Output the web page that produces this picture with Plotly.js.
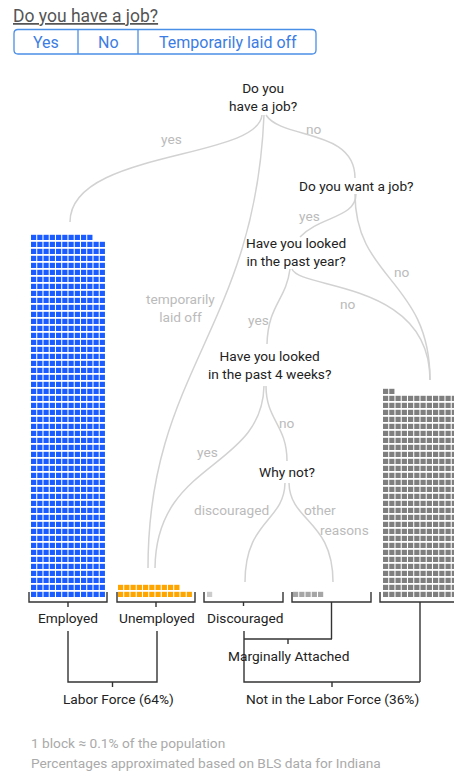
<!DOCTYPE html>
<html>
<head>
<meta charset="utf-8">
<script src="https://cdn.plot.ly/plotly-3.0.1.min.js"></script>
<style>html,body{margin:0;padding:0;background:#fff;}#chart{width:454px;height:771px;}</style>
</head>
<body>
<div id="chart"></div>
<script>
// ---- data ----
const categories = ['Employed', 'Unemployed', 'Discouraged', 'Other reasons', 'Not in the Labor Force'];
const categoryLabels = ['Employed', 'Unemployed', 'Discouraged'];
const blockCounts = [622, 22, 1, 5, 350];
const groupLabels = ['Labor Force (64%)', 'Not in the Labor Force (36%)', 'Marginally Attached'];
const buttonLabels = ['Yes', 'No', 'Temporarily laid off'];
const questions = ['Do you<br>have a job?', 'Do you want a job?', 'Have you looked<br>in the past year?',
                   'Have you looked<br>in the past 4 weeks?', 'Why not?'];
const branchLabels = ['yes', 'no', 'yes', 'no', 'temporarily<br>laid off', 'yes', 'no', 'yes', 'no', 'discouraged', 'other', 'reasons'];
const notes = ['1 block \u2248 0.1% of the population', 'Percentages approximated based on BLS data for Indiana'];

// ---- styles / layout config ----
const blockColors = ['#1a5cff', '#ffa500', '#cccccc', '#a6a6a6', '#7f7f7f'];
const pileLeft = [31, 118, 207, 293, 383];
const pileBottom = 597;
const COLS = 12, PX = 6.25, PY = 7.0, BS = 5.2;
const FONT = 'Roboto, "Open Sans", sans-serif';
const FS = 13.7;

const traces = blockCounts.map((n, k) => {
  const xs = [], ys = [];
  for (let i = 0; i < n; i++) {
    const c = i % COLS, r = Math.floor(i / COLS);
    xs.push(pileLeft[k] + BS / 2 + c * PX);
    ys.push(pileBottom - BS / 2 - r * PY);
  }
  return {
    type: 'scatter', mode: 'markers', x: xs, y: ys, name: categories[k],
    hoverinfo: 'skip',
    marker: {symbol: 'square', size: BS, color: blockColors[k], line: {width: 0}}
  };
});

const treeLine = {color: '#d2d2d2', width: 1.5};
const brLine = {color: '#333333', width: 1.4};
function path(d, line, layer) {
  return {type: 'path', xref: 'x', yref: 'y', path: d, line: line, layer: layer || 'above'};
}
const shapes = [
  // tree
  path('M 262 115 C 258 160, 70 150, 70 222', treeLine, 'below'),
  path('M 264 115 C 255 330, 148 370, 148 568', treeLine, 'below'),
  path('M 266 115 C 282 140, 355 128, 355 178', treeLine, 'below'),
  path('M 355 194 C 355 280, 430 280, 430 380', treeLine, 'below'),
  path('M 356 194 C 356 218, 320 216, 300 237', treeLine, 'below'),
  path('M 292 269 C 300 290, 430 280, 430 380', treeLine, 'below'),
  path('M 290 269 C 286 300, 268 305, 267 344', treeLine, 'below'),
  path('M 264 386 C 262 470, 156 460, 155 568', treeLine, 'below'),
  path('M 266 386 C 266 420, 287 425, 287 461', treeLine, 'below'),
  path('M 285 483 C 284 522, 245 520, 245 582', treeLine, 'below'),
  path('M 289 483 C 290 522, 333 520, 333 582', treeLine, 'below'),
  // buttons
  path('M 18 29.5 H 312 Q 316 29.5 316 33.5 V 50 Q 316 54 312 54 H 18 Q 14 54 14 50 V 33.5 Q 14 29.5 18 29.5 Z', {color: '#4a8fe7', width: 1.3}),
  path('M 78 29.5 V 54', {color: '#4a8fe7', width: 1.3}),
  path('M 138 29.5 V 54', {color: '#4a8fe7', width: 1.3}),
];
// pile brackets
const brackets = [[29, 107], [117, 195], [204, 283], [292, 371], [380, 470]];
const tickEnd = [607, 607, 606, 639, 682];
brackets.forEach((b, i) => {
  shapes.push(path(`M ${b[0]} 592 V 602 H ${b[1]} V 592`, brLine));
  const c = i === 4 ? 420 : (b[0] + b[1]) / 2;
  shapes.push(path(`M ${c} 602 V ${tickEnd[i]}`, brLine));
});
shapes.push(path('M 68 631 V 682 H 157 V 631', brLine));
shapes.push(path('M 112.5 682 V 687', brLine));
shapes.push(path('M 244 631 V 682 H 420', brLine));
shapes.push(path('M 332 682 V 687', brLine));
shapes.push(path('M 244 639 H 332', brLine));
shapes.push(path('M 288 639 V 644', brLine));

function ann(text, x, y, size, color, extra) {
  return Object.assign({text: text, x: x, y: y, xref: 'x', yref: 'y', showarrow: false,
    xanchor: 'center', yanchor: 'middle', font: {family: FONT, size: size, color: color}}, extra || {});
}
const annotations = [
  ann('<u>Do you have a job?</u>', 11, 16, 17.5, '#555555', {xanchor: 'left'}),
  ann(buttonLabels[0], 46, 42.5, 16, '#3b7de3'),
  ann(buttonLabels[1], 108, 42.5, 16, '#3b7de3'),
  ann(buttonLabels[2], 228, 42.5, 16, '#3b7de3'),
  ann(questions[0], 263, 97, FS, '#222222'),
  ann(questions[1], 356, 186, FS, '#222222'),
  ann(questions[2], 296, 252, FS, '#222222'),
  ann(questions[3], 269, 365, FS, '#222222'),
  ann(questions[4], 287, 472, FS, '#222222'),
  ann(branchLabels[0], 171, 139, FS, '#bbbbbb'),
  ann(branchLabels[1], 314, 129, FS, '#bbbbbb'),
  ann(branchLabels[2], 309, 216, FS, '#bbbbbb'),
  ann(branchLabels[3], 402, 272, FS, '#bbbbbb'),
  ann(branchLabels[4], 180, 308, FS, '#bbbbbb'),
  ann(branchLabels[5], 258, 320, FS, '#bbbbbb'),
  ann(branchLabels[6], 348, 304, FS, '#bbbbbb'),
  ann(branchLabels[7], 207, 452, FS, '#bbbbbb'),
  ann(branchLabels[8], 287, 423, FS, '#bbbbbb'),
  ann(branchLabels[9], 231, 510, FS, '#bbbbbb'),
  ann(branchLabels[10], 320, 510, FS, '#bbbbbb'),
  ann(branchLabels[11], 344, 530, FS, '#bbbbbb'),
  ann(categoryLabels[0], 68, 618, FS, '#222222'),
  ann(categoryLabels[1], 157, 618, FS, '#222222'),
  ann(categoryLabels[2], 245, 618, FS, '#222222'),
  ann(groupLabels[2], 288, 656, FS, '#222222'),
  ann(groupLabels[0], 118, 699, FS, '#222222'),
  ann(groupLabels[1], 332, 699, FS, '#222222'),
  ann(notes[0], 29, 743, FS, '#aaaaaa', {xanchor: 'left'}),
  ann(notes[1], 29, 763, FS, '#aaaaaa', {xanchor: 'left'}),
];

const layout = {
  width: 454, height: 771,
  margin: {l: 0, r: 0, t: 0, b: 0, pad: 0},
  paper_bgcolor: '#ffffff', plot_bgcolor: '#ffffff',
  showlegend: false,
  xaxis: {range: [0, 454], visible: false, fixedrange: true},
  yaxis: {range: [771, 0], visible: false, fixedrange: true},
  shapes: shapes,
  annotations: annotations,
  font: {family: FONT}
};
Plotly.newPlot('chart', traces, layout, {staticPlot: true, displayModeBar: false});
</script>
</body>
</html>
